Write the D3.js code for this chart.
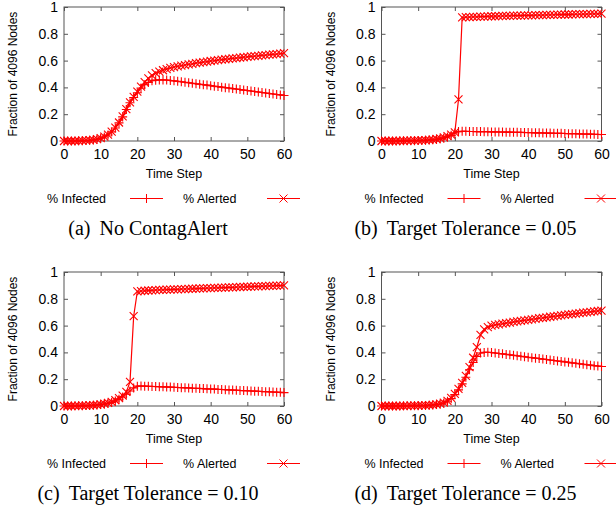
<!DOCTYPE html>
<html>
<head>
<meta charset="utf-8">
<script src="https://cdn.jsdelivr.net/npm/d3@7"></script>
<style>
  body { margin: 0; background: #fff; }
  text { font-family: "Liberation Sans", Arial, sans-serif; fill: #000; }
  .caption { font-family: "Liberation Serif", "Times New Roman", serif; font-size: 20px; }
</style>
</head>
<body>
<div id="chart"></div>
<script>
// time steps 0..60
var steps = d3.range(0, 61)

var xTicks = [0, 10, 20, 30, 40, 50, 60]
var yTicks = [0, 0.2, 0.4, 0.6, 0.8, 1]

var seriesNames = ["% Infected", "% Alerted"]
var captions = ["(a)|No ContagAlert", "(b)|Target Tolerance = 0.05", "(c)|Target Tolerance = 0.10", "(d)|Target Tolerance = 0.25"]

// (a) No ContagAlert
var infectedA = [0, 0, 0, 0, 0.001, 0.002, 0.003, 0.005, 0.008, 0.013,
  0.02, 0.03, 0.045, 0.068, 0.097, 0.135, 0.18, 0.235, 0.285, 0.325,
  0.36, 0.395, 0.42, 0.437, 0.45, 0.454, 0.456, 0.456, 0.455, 0.452,
  0.449, 0.445, 0.442, 0.438, 0.435, 0.431, 0.427, 0.424, 0.42, 0.417,
  0.413, 0.409, 0.406, 0.402, 0.398, 0.395, 0.391, 0.388, 0.384, 0.38,
  0.377, 0.373, 0.369, 0.366, 0.362, 0.358, 0.355, 0.351, 0.347, 0.344,
  0.34]
var alertedA = [0, 0, 0, 0, 0.001, 0.002, 0.004, 0.006, 0.009, 0.014,
  0.021, 0.032, 0.047, 0.07, 0.1, 0.138, 0.184, 0.238, 0.288, 0.33,
  0.368, 0.405, 0.44, 0.468, 0.49, 0.506, 0.518, 0.528, 0.537, 0.545,
  0.552, 0.557, 0.562, 0.567, 0.572, 0.576, 0.581, 0.585, 0.589, 0.593,
  0.597, 0.6, 0.604, 0.607, 0.61, 0.613, 0.616, 0.619, 0.622, 0.625,
  0.628, 0.631, 0.633, 0.636, 0.639, 0.641, 0.644, 0.647, 0.649, 0.652,
  0.655]

// (b) tolerance 0.05
var infectedB = [0, 0, 0, 0, 0, 0.001, 0.001, 0.001, 0.002, 0.002,
  0.003, 0.004, 0.005, 0.007, 0.009, 0.012, 0.016, 0.022, 0.03, 0.042,
  0.06, 0.07, 0.072, 0.072, 0.071, 0.071, 0.07, 0.07, 0.069, 0.069,
  0.068, 0.068, 0.067, 0.067, 0.066, 0.066, 0.065, 0.065, 0.064, 0.063,
  0.063, 0.062, 0.061, 0.061, 0.06, 0.059, 0.059, 0.058, 0.057, 0.057,
  0.056, 0.055, 0.055, 0.054, 0.053, 0.052, 0.052, 0.051, 0.05, 0.049,
  0.048]
var alertedB = [0, 0, 0, 0, 0, 0.001, 0.001, 0.002, 0.002, 0.003,
  0.004, 0.005, 0.006, 0.008, 0.011, 0.015, 0.02, 0.027, 0.036, 0.048,
  0.065, 0.31, 0.922, 0.924, 0.925, 0.926, 0.927, 0.928, 0.929, 0.93,
  0.931, 0.931, 0.932, 0.933, 0.934, 0.934, 0.935, 0.936, 0.936, 0.937,
  0.938, 0.938, 0.939, 0.94, 0.94, 0.941, 0.941, 0.942, 0.943, 0.943,
  0.944, 0.944, 0.945, 0.946, 0.946, 0.947, 0.947, 0.948, 0.948, 0.949,
  0.95]

// (c) tolerance 0.10
var infectedC = [0, 0, 0, 0.001, 0.001, 0.002, 0.003, 0.004, 0.006, 0.008,
  0.011, 0.015, 0.02, 0.027, 0.037, 0.05, 0.067, 0.088, 0.112, 0.135,
  0.148, 0.149, 0.148, 0.147, 0.146, 0.145, 0.144, 0.143, 0.142, 0.141,
  0.14, 0.138, 0.137, 0.136, 0.135, 0.133, 0.132, 0.131, 0.13, 0.128,
  0.127, 0.126, 0.124, 0.123, 0.122, 0.12, 0.119, 0.118, 0.116, 0.115,
  0.114, 0.112, 0.111, 0.11, 0.108, 0.107, 0.106, 0.104, 0.103, 0.102,
  0.1]
var alertedC = [0, 0, 0, 0.001, 0.001, 0.002, 0.003, 0.005, 0.007, 0.009,
  0.012, 0.017, 0.023, 0.031, 0.043, 0.058, 0.078, 0.105, 0.18, 0.67,
  0.855, 0.858, 0.86, 0.862, 0.863, 0.865, 0.866, 0.867, 0.868, 0.869,
  0.87, 0.871, 0.872, 0.873, 0.874, 0.875, 0.876, 0.877, 0.878, 0.879,
  0.88, 0.881, 0.882, 0.883, 0.884, 0.885, 0.886, 0.887, 0.888, 0.889,
  0.89, 0.891, 0.892, 0.893, 0.894, 0.895, 0.896, 0.897, 0.898, 0.899,
  0.9]

// (d) tolerance 0.25
var infectedD = [0, 0, 0, 0, 0, 0, 0.001, 0.001, 0.001, 0.002,
  0.002, 0.003, 0.004, 0.006, 0.008, 0.011, 0.015, 0.022, 0.035, 0.055,
  0.085, 0.12, 0.165, 0.215, 0.27, 0.325, 0.37, 0.395, 0.4, 0.401,
  0.399, 0.396, 0.392, 0.389, 0.385, 0.382, 0.378, 0.375, 0.371, 0.368,
  0.364, 0.361, 0.357, 0.354, 0.35, 0.347, 0.343, 0.34, 0.336, 0.333,
  0.329, 0.326, 0.322, 0.319, 0.315, 0.312, 0.308, 0.305, 0.301, 0.298,
  0.295]
var alertedD = [0, 0, 0, 0, 0, 0, 0.001, 0.001, 0.002, 0.002,
  0.003, 0.004, 0.005, 0.007, 0.009, 0.012, 0.017, 0.025, 0.038, 0.06,
  0.09, 0.127, 0.172, 0.225, 0.29, 0.36, 0.44, 0.53, 0.572, 0.588,
  0.6, 0.605, 0.609, 0.614, 0.618, 0.622, 0.627, 0.631, 0.635, 0.639,
  0.643, 0.647, 0.651, 0.655, 0.658, 0.662, 0.666, 0.669, 0.673, 0.676,
  0.68, 0.683, 0.686, 0.69, 0.693, 0.696, 0.699, 0.703, 0.706, 0.709,
  0.712]

var panels = [
  { ox: 0, oy: 0, infected: infectedA, alerted: alertedA, caption: captions[0] },
  { ox: 317.5, oy: 0, infected: infectedB, alerted: alertedB, caption: captions[1] },
  { ox: 0, oy: 265, infected: infectedC, alerted: alertedC, caption: captions[2] },
  { ox: 317.5, oy: 265, infected: infectedD, alerted: alertedD, caption: captions[3] }
]

var margin = { top: 7, left: 64 }
var width = 220, height = 134
var red = "#ff0000"

var plusPath = "M-4.5,0H4.5M0,-4.5V4.5"
var crossPath = "M-4,-4L4,4M-4,4L4,-4"

var svg = d3.select("#chart").append("svg")
  .attr("width", 616)
  .attr("height", 510)

svg.append("rect").attr("width", 616).attr("height", 510).attr("fill", "#fff")

var xPositionScale = d3.scaleLinear().domain([0, 60]).range([0, width])
var yPositionScale = d3.scaleLinear().domain([0, 1]).range([height, 0])

var line = d3.line()
  .x(function (d) { return xPositionScale(d.t) })
  .y(function (d) { return yPositionScale(d.v) })

function drawPanel (p) {
  var g = svg.append("g")
    .attr("transform", "translate(" + (p.ox + margin.left) + "," + (p.oy + margin.top) + ")")

  // axes with inward ticks, mirrored on top / right
  var yAxis = d3.axisLeft(yPositionScale).tickValues(yTicks)
    .tickFormat(d3.format("~g")).tickSizeInner(-4).tickSizeOuter(0).tickPadding(6)
  var xAxis = d3.axisBottom(xPositionScale).tickValues(xTicks)
    .tickSizeInner(-4).tickSizeOuter(0).tickPadding(8)

  var ya = g.append("g").call(yAxis)
  var xa = g.append("g").attr("transform", "translate(0," + height + ")").call(xAxis)
  g.append("g").call(d3.axisTop(xPositionScale).tickValues(xTicks).tickFormat("").tickSizeInner(-4).tickSizeOuter(0))
  g.append("g").attr("transform", "translate(" + width + ",0)")
    .call(d3.axisRight(yPositionScale).tickValues(yTicks).tickFormat("").tickSizeInner(-4).tickSizeOuter(0))

  g.selectAll(".domain").remove()
  g.selectAll(".tick line").attr("stroke", "#555")
  ya.selectAll("text").attr("font-size", 14).attr("font-family", "Liberation Sans, Arial, sans-serif")
  xa.selectAll("text").attr("font-size", 14).attr("font-family", "Liberation Sans, Arial, sans-serif")

  g.append("rect")
    .attr("width", width).attr("height", height)
    .attr("fill", "none").attr("stroke", "#555").attr("stroke-width", 1)

  // axis titles
  g.append("text")
    .attr("transform", "translate(-51," + (height / 2) + ") rotate(-90)")
    .attr("text-anchor", "middle")
    .attr("dy", "0.35em")
    .attr("font-size", 12)
    .text("Fraction of 4096 Nodes")

  g.append("text")
    .attr("x", width / 2)
    .attr("y", height + 37)
    .attr("text-anchor", "middle")
    .attr("font-size", 12.5)
    .text("Time Step")

  // series
  var series = [
    { name: seriesNames[0], values: p.infected, marker: plusPath },
    { name: seriesNames[1], values: p.alerted, marker: crossPath }
  ]

  series.forEach(function (s) {
    var pts = steps.map(function (t, i) { return { t: t, v: s.values[i] } })
    g.append("path")
      .datum(pts)
      .attr("d", line)
      .attr("fill", "none")
      .attr("stroke", red)
      .attr("stroke-width", 1.2)

    g.selectAll(null)
      .data(pts)
      .enter().append("path")
      .attr("transform", function (d) { return "translate(" + xPositionScale(d.t) + "," + yPositionScale(d.v) + ")" })
      .attr("d", s.marker)
      .attr("fill", "none")
      .attr("stroke", red)
      .attr("stroke-width", 1.1)
  })

  // legend
  var legendY = height + 62
  var legendItems = [
    { name: seriesNames[0], tx: -17, lx: 66, marker: plusPath },
    { name: seriesNames[1], tx: 119, lx: 203, marker: crossPath }
  ]
  legendItems.forEach(function (item) {
    g.append("text")
      .attr("x", item.tx)
      .attr("y", legendY)
      .attr("font-size", 12.5)
      .text(item.name)
    g.append("line")
      .attr("x1", item.lx).attr("x2", item.lx + 33)
      .attr("y1", legendY - 4.5).attr("y2", legendY - 4.5)
      .attr("stroke", red)
    g.append("path")
      .attr("transform", "translate(" + (item.lx + 16.5) + "," + (legendY - 4.5) + ")")
      .attr("d", item.marker)
      .attr("fill", "none")
      .attr("stroke", red)
  })

  // caption
  var parts = p.caption.split("|")
  var cap = g.append("text")
    .attr("class", "caption")
    .attr("x", 84)
    .attr("y", height + 94)
    .attr("text-anchor", "middle")
  cap.append("tspan").text(parts[0])
  cap.append("tspan").attr("dx", 9).text(parts[1])
}

panels.forEach(drawPanel)
</script>
</body>
</html>
